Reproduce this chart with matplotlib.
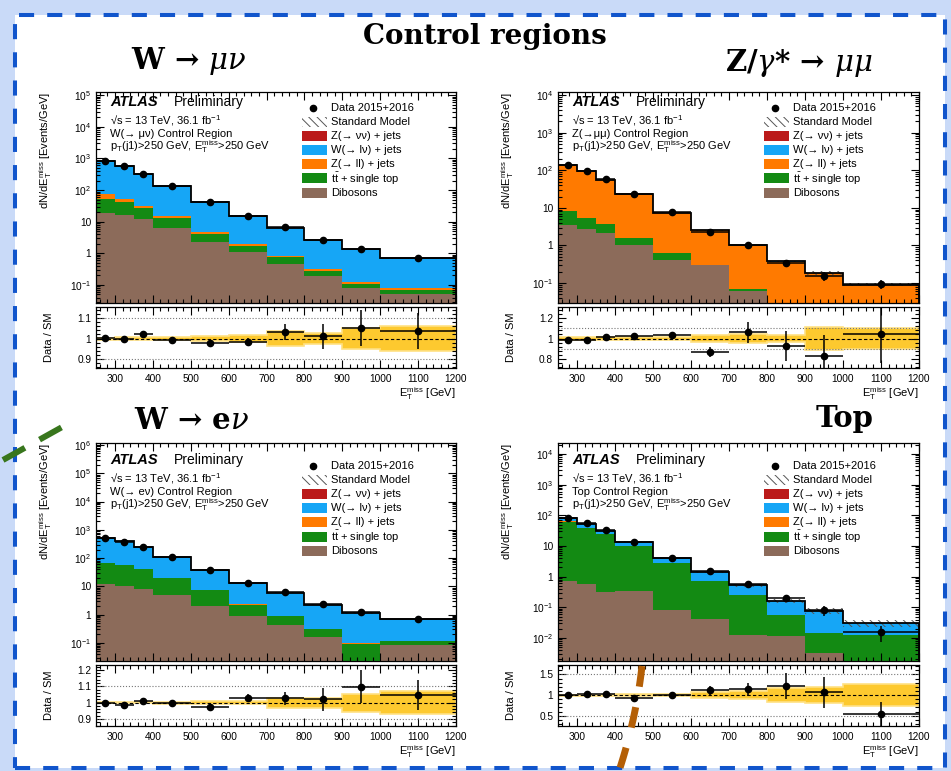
import numpy as np
import matplotlib.pyplot as plt
from matplotlib.patches import Rectangle
from matplotlib.lines import Line2D
from matplotlib.ticker import MultipleLocator, FixedLocator, FuncFormatter, NullFormatter

plt.rcParams['font.family'] = ['Liberation Sans', 'DejaVu Sans']
plt.rcParams['mathtext.fontset'] = 'custom'
plt.rcParams['mathtext.rm'] = 'Liberation Sans'
plt.rcParams['mathtext.it'] = 'Liberation Sans:italic'
plt.rcParams['mathtext.bf'] = 'Liberation Sans:bold'
plt.rcParams['hatch.linewidth'] = 0.7

edges = np.array([250, 300, 350, 400, 500, 600, 700, 800, 900, 1000, 1200])

# W(-> mu nu) control region
wmu_diboson = [19.4, 16.3, 11.9, 6.5, 2.3, 1.07, 0.46, 0.19, 0.08, 0.051]
wmu_ttbar = [34.6, 24.7, 14.6, 6.5, 1.8, 0.68, 0.31, 0.09, 0.027, 0.018]
wmu_zll = [20, 11, 5.5, 2.0, 0.6, 0.22, 0.07, 0.03, 0.013, 0.009]
wmu_wlnu = [780, 527, 293, 120, 38.3, 13.5, 5.65, 2.29, 1.22, 0.61]
wmu_znn = [0.9, 0.6, 0.35, 0.15, 0.05, 0.02, 0.008, 0.003, 0.0015, 0.0008]
wmu_data = [858, 577, 332, 134, 42.1, 15.2, 6.71, 2.63, 1.41, 0.715]
wmu_err = [5, 4, 2.6, 1.35, 0.52, 0.31, 0.25, 0.16, 0.12, 0.061]
wmu_syst = [0.005, 0.006, 0.007, 0.008, 0.012, 0.017, 0.035, 0.027, 0.053, 0.063]

# Z(-> mu mu) control region
zmm_diboson = [3.6, 2.7, 2.17, 1.0, 0.41, 0.295, 0.063, 0.02, 0.01, 0.008]
zmm_ttbar = [4.4, 2.6, 1.6, 0.57, 0.22, 0.015, 0.007, 0.003, 0.002, 0.001]
zmm_zll = [129.6, 92.5, 52.1, 21.4, 6.85, 2.23, 0.924, 0.351, 0.172, 0.081]
zmm_wlnu = [0.3, 0.2, 0.1, 0.05, 0.02, 0.01, 0.005, 0.002, 0.001, 0.0005]
zmm_znn = [0.05, 0.03, 0.02, 0.01, 0.004, 0.002, 0.001, 0.0004, 0.0002, 0.0001]
zmm_data = [136.6, 97.0, 57.1, 23.6, 7.77, 2.22, 1.06, 0.35, 0.153, 0.095]
zmm_err = [1.4, 1.2, 0.84, 0.46, 0.23, 0.13, 0.1, 0.056, 0.039, 0.026]
zmm_syst = [0.016, 0.015, 0.015, 0.015, 0.018, 0.03, 0.045, 0.03, 0.11, 0.1]

# W(-> e nu) control region
wel_diboson = [11.9, 10.6, 7.9, 4.8, 1.94, 0.92, 0.43, 0.163, 0.015, 0.082]
wel_ttbar = [57, 48, 32, 15, 5.3, 1.36, 0.49, 0.15, 0.08, 0.035]
wel_zll = [0.5, 0.4, 0.3, 0.15, 0.05, 0.02, 0.01, 0.004, 0.002, 0.001]
wel_wlnu = [445, 330.5, 199.5, 92.9, 30.7, 10.9, 5.06, 1.96, 1.05, 0.56]
wel_znn = [0.6, 0.45, 0.3, 0.13, 0.04, 0.015, 0.007, 0.003, 0.0015, 0.0008]
wel_data = [515, 385, 242, 113, 37.0, 13.6, 6.15, 2.33, 1.26, 0.71]
wel_err = [2.6, 2.3, 1.9, 1.1, 0.46, 0.33, 0.24, 0.16, 0.115, 0.061]
wel_syst = [0.005, 0.005, 0.005, 0.006, 0.008, 0.01, 0.03, 0.03, 0.055, 0.07]

# Top control region
top_diboson = [0.74, 0.575, 0.32, 0.34, 0.081, 0.041, 0.0123, 0.0117, 0.0032, 0.001]
top_ttbar = [62.3, 39.4, 23.7, 9.66, 2.79, 0.70, 0.238, 0.044, 0.011, 0.0113]
top_zll = [0.3, 0.2, 0.12, 0.05, 0.015, 0.005, 0.002, 0.0006, 0.0003, 0.0001]
top_wlnu = [15.6, 13.7, 7.84, 3.93, 1.11, 0.673, 0.267, 0.103, 0.0626, 0.0175]
top_znn = [0.1, 0.07, 0.04, 0.02, 0.006, 0.002, 0.0008, 0.0003, 0.0001, 0.00005]
top_data = [79, 55.1, 32.6, 13.1, 4.0, 1.59, 0.593, 0.195, 0.0824, 0.0159]
top_err = [1.6, 1.35, 0.96, 0.7, 0.28, 0.156, 0.083, 0.051, 0.029, 0.0087]
top_syst = [0.01, 0.01, 0.012, 0.015, 0.02, 0.07, 0.1, 0.16, 0.2, 0.26]

stack_colors = ['#8c6b5a', '#138a13', '#ff7a00', '#16a6f6', '#bb1a1a']
legend_labels = ['Data 2015+2016', 'Standard Model', 'Z(→ νν) + jets', 'W(→ lν) + jets',
                 'Z(→ ll) + jets', r'$\mathrm{t\bar{t}}$ + single top', 'Dibosons']

W, H = 951, 771
fig = plt.figure(figsize=(W / 100, H / 100), dpi=100)
fig.patch.set_facecolor('#c9daf8')


def px(x0, y0, x1, y1):
    return [x0 / W, 1 - y1 / H, (x1 - x0) / W, (y1 - y0) / H]


def logfmt(v, pos):
    e = int(round(np.log10(v)))
    if e == 0:
        return '1'
    if e == 1:
        return '10'
    return r'$10^{%d}$' % e


def style(ax):
    ax.tick_params(which='both', direction='in', top=True, right=True, labelsize=7.3, width=0.8)
    ax.tick_params(which='major', length=6)
    ax.tick_params(which='minor', length=3)
    for s in ax.spines.values():
        s.set_linewidth(0.9)


fig.add_artist(Rectangle((15 / W, 1 - 768 / H), 930 / W, 753 / H, transform=fig.transFigure,
                         facecolor='white', edgecolor='#1155cc', lw=2.9,
                         linestyle=(0, (3.75, 3.25)), zorder=-1))


def draw(mbox, rbox, comps, data, derr, syst, region, ylog, rlim, rticks, rgrid, off):
    comps = [np.array(c, float) for c in comps]
    data = np.array(data, float)
    derr = np.array(derr, float)
    syst = np.array(syst, float)
    centers = 0.5 * (edges[1:] + edges[:-1])
    half = 0.5 * (edges[1:] - edges[:-1])
    w = mbox[2] - mbox[0]
    h = mbox[3] - mbox[1]

    axm = fig.add_axes(px(*mbox))
    axr = fig.add_axes(px(*rbox))
    axm.set_yscale('log')

    base = np.full(len(centers), 1e-9)
    for vals, col in zip(comps, stack_colors):
        top = base + vals
        axm.stairs(top, edges, baseline=base, fill=True, color=col, lw=0)
        base = top
    total = base
    axm.stairs(total * (1 + syst), edges, baseline=total * (1 - syst), fill=True,
               facecolor='none', edgecolor='#555555', hatch='\\\\\\\\', lw=0)
    axm.stairs(total, edges, color='black', lw=1.3)
    axm.errorbar(centers, data, yerr=derr, xerr=half, fmt='o', color='black', ms=4.5,
                 lw=1.1, capsize=0)

    axm.set_xlim(edges[0], edges[-1])
    axm.set_ylim(10 ** ylog[0], 10 ** ylog[1])
    decades = np.arange(np.floor(ylog[0]), np.ceil(ylog[1]) + 1)
    majors = [10 ** d for d in decades if ylog[0] <= d <= ylog[1]]
    minors = [m * 10 ** d for d in decades for m in range(2, 10)
              if ylog[0] <= np.log10(m * 10 ** d) <= ylog[1]]
    axm.yaxis.set_major_locator(FixedLocator(majors))
    axm.yaxis.set_minor_locator(FixedLocator(minors))
    axm.yaxis.set_major_formatter(FuncFormatter(logfmt))
    axm.yaxis.set_minor_formatter(NullFormatter())
    axm.xaxis.set_major_locator(FixedLocator(np.arange(300, 1201, 100)))
    axm.xaxis.set_minor_locator(MultipleLocator(20))
    axm.xaxis.set_major_formatter(NullFormatter())
    axm.tick_params(labelbottom=False)
    style(axm)
    axm.set_ylabel(r'dN/dE$_{\mathrm{T}}^{\mathrm{miss}}$ [Events/GeV]', fontsize=8, loc='top')
    axm.yaxis.set_label_coords(-0.117, 1.0)

    # labels
    axm.text(14 / w, 1 - off[0] / h, 'ATLAS', transform=axm.transAxes, fontsize=10.5,
             fontweight='bold', fontstyle='italic', va='center')
    axm.text(78 / w, 1 - off[0] / h, 'Preliminary', transform=axm.transAxes, fontsize=10,
             va='center')
    lines = [r'√s = 13 TeV, 36.1 fb$^{\mathrm{-1}}$', region,
             r'p$_{\mathrm{T}}$(j1)>250 GeV, E$_{\mathrm{T}}^{\mathrm{miss}}$>250 GeV']
    for i, t in enumerate(lines):
        axm.text(14 / w, 1 - (off[0] + 19 + 13 * i) / h, t, transform=axm.transAxes,
                 fontsize=8, va='center')

    # legend
    for i, lab in enumerate(legend_labels):
        fy = 1 - (off[1] + 14.1 * i) / h
        axm.text(235 / w, fy, lab, transform=axm.transAxes, fontsize=8, va='center')
        if i == 0:
            axm.plot([217 / w], [fy], 'o', color='black', ms=4.5, transform=axm.transAxes)
        elif i == 1:
            axm.add_patch(Rectangle((206 / w, fy - 5 / h), 25 / w, 10 / h,
                                    transform=axm.transAxes, facecolor='none',
                                    edgecolor='#555555', hatch='\\\\\\\\', lw=0))
        else:
            col = stack_colors[::-1][i - 2]
            axm.add_patch(Rectangle((206 / w, fy - 5 / h), 25 / w, 10 / h,
                                    transform=axm.transAxes, facecolor=col, lw=0))

    # ratio
    axr.stairs(1 + syst, edges, baseline=1 - syst, fill=True, facecolor='#fdc92f',
               edgecolor='#ffe184', lw=1.2)
    for g in rgrid:
        axr.axhline(g, color='#777777', ls=':', lw=0.8)
    axr.axhline(1, color='black', ls=(0, (3, 2)), lw=0.8)
    axr.errorbar(centers, data / total, yerr=derr / total, xerr=half, fmt='o', color='black',
                 ms=4.5, lw=1.1, capsize=0)
    axr.set_xlim(edges[0], edges[-1])
    axr.set_ylim(*rlim)
    axr.yaxis.set_major_locator(FixedLocator(rticks))
    axr.yaxis.set_major_formatter(FuncFormatter(lambda v, p: '%g' % v))
    axr.yaxis.set_minor_locator(MultipleLocator((rticks[1] - rticks[0]) / 5))
    axr.xaxis.set_major_locator(FixedLocator(np.arange(300, 1201, 100)))
    axr.xaxis.set_minor_locator(MultipleLocator(20))
    style(axr)
    axr.tick_params(axis='x', pad=4)
    axr.set_ylabel('Data / SM', fontsize=8)
    axr.yaxis.set_label_coords(-0.117, 0.5)
    axr.set_xlabel(r'E$_{\mathrm{T}}^{\mathrm{miss}}$ [GeV]', fontsize=8, loc='right', labelpad=1)


draw((96, 92, 456, 303), (96, 307, 456, 368),
     [wmu_diboson, wmu_ttbar, wmu_zll, wmu_wlnu, wmu_znn], wmu_data, wmu_err, wmu_syst,
     'W(→ μν) Control Region', (-1.57, 5.1), (0.855, 1.155), [0.9, 1.0, 1.1], [0.9, 1.1], (10, 16))
draw((558, 92, 919, 303), (558, 307, 919, 368),
     [zmm_diboson, zmm_ttbar, zmm_zll, zmm_wlnu, zmm_znn], zmm_data, zmm_err, zmm_syst,
     'Z(→μμ) Control Region', (-1.53, 4.08), (0.71, 1.31), [0.8, 1.0, 1.2], [0.9, 1.1], (10, 16))
draw((96, 443, 456, 661), (96, 665, 456, 726),
     [wel_diboson, wel_ttbar, wel_zll, wel_wlnu, wel_znn], wel_data, wel_err, wel_syst,
     'W(→ eν) Control Region', (-1.64, 6.07), (0.857, 1.23), [0.9, 1.0, 1.1, 1.2], [0.9, 1.1], (17, 23))
draw((558, 443, 919, 661), (558, 665, 919, 726),
     [top_diboson, top_ttbar, top_zll, top_wlnu, top_znn], top_data, top_err, top_syst,
     'Top Control Region', (-2.75, 4.36), (0.25, 1.73), [0.5, 1.0, 1.5], [0.5, 1.5], (17, 23))

# slide titles
def title(x, y, s, size):
    fig.text(x / W, 1 - y / H, s, ha='center', va='center', fontsize=size, fontweight='bold',
             family='DejaVu Serif', math_fontfamily='dejavuserif')


title(485, 36, 'Control regions', 20)
title(189, 61, r'W → $\mu\nu$', 21)
title(799, 63, r'Z/$\gamma$* → $\mu\mu$', 21)
title(192, 421, r'W → e$\nu$', 21)
title(845, 419, 'Top', 21)

# hand-drawn marks on the slide
fig.add_artist(Line2D([3 / W, 64 / W], [1 - 460 / H, 1 - 426 / H], transform=fig.transFigure,
                      color='#38761d', lw=4.3, dashes=(4.2, 2.8), dash_capstyle='butt'))
t = np.linspace(0, 1, 40)
bx = (1 - t) ** 2 * 642 + 2 * (1 - t) * t * 636 + t ** 2 * 618
by = (1 - t) ** 2 * 666 + 2 * (1 - t) * t * 720 + t ** 2 * 774
fig.add_artist(Line2D(bx / W, 1 - by / H, transform=fig.transFigure, color='#b45f06', lw=5,
                      dashes=(3, 3), dash_capstyle='butt'))

fig.savefig('out.png', dpi=100, facecolor=fig.get_facecolor())
